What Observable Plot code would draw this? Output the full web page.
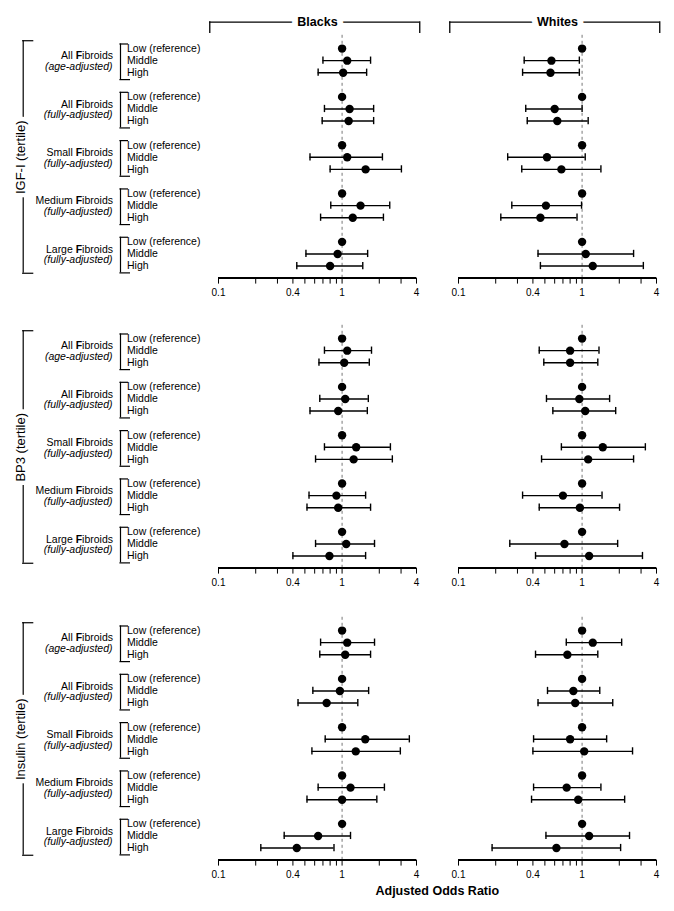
<!DOCTYPE html>
<html>
<head>
<meta charset="utf-8">
<script src="https://cdn.jsdelivr.net/npm/d3@7"></script>
<script src="https://cdn.jsdelivr.net/npm/@observablehq/plot@0.6"></script>
<style>
  html, body { margin: 0; padding: 0; background: #fff; }
  #chart { position: relative; width: 674px; height: 911px; overflow: hidden; background: #fff; }
  #chart svg { position: absolute; }
  #xtitle { position: absolute; font-family: "Liberation Sans", Arial, sans-serif; font-weight: bold; font-size: 12.5px; text-align: center; line-height: 15px; }
</style>
</head>
<body>
<div id="chart"></div>
<script>
// ---------------- data ----------------
const races = ["Blacks", "Whites"];
const panels = ["IGF-I (tertile)", "BP3 (tertile)", "Insulin (tertile)"];
const groups = ["All Fibroids", "All Fibroids", "Small Fibroids", "Medium Fibroids", "Large Fibroids"];
const adjustments = ["(age-adjusted)", "(fully-adjusted)", "(fully-adjusted)", "(fully-adjusted)", "(fully-adjusted)"];
const tertiles = ["Low (reference)", "Middle", "High"];
const xTickValues = [0.1, 0.2, 0.3, 0.4, 0.5, 0.6, 0.7, 0.8, 0.9, 1, 2, 3, 4];
const xTickLabels = [0.1, 0.4, 1, 4];
const axisTitle = "Adjusted Odds Ratio";

// [odds ratio, lower CI, upper CI] for Middle and High tertile of each group (Low = reference 1)
const igfBlacks = [
  [1.10, 0.70, 1.70], [1.02, 0.64, 1.58],
  [1.15, 0.72, 1.80], [1.13, 0.69, 1.80],
  [1.10, 0.55, 2.12], [1.55, 0.80, 3.02],
  [1.41, 0.81, 2.43], [1.22, 0.67, 2.16],
  [0.92, 0.51, 1.61], [0.80, 0.43, 1.47]
];
const igfWhites = [
  [0.565, 0.34, 0.95], [0.555, 0.33, 0.95],
  [0.60, 0.35, 1.00], [0.63, 0.36, 1.12],
  [0.52, 0.25, 1.06], [0.68, 0.325, 1.42],
  [0.51, 0.27, 0.99], [0.46, 0.22, 0.91],
  [1.07, 0.44, 2.61], [1.22, 0.46, 3.13]
];
const bp3Blacks = [
  [1.10, 0.72, 1.73], [1.04, 0.65, 1.66],
  [1.06, 0.66, 1.63], [0.93, 0.55, 1.60],
  [1.30, 0.72, 2.46], [1.24, 0.61, 2.55],
  [0.90, 0.54, 1.55], [0.93, 0.52, 1.70],
  [1.08, 0.61, 1.83], [0.79, 0.40, 1.55]
];
const bp3Whites = [
  [0.80, 0.45, 1.37], [0.80, 0.49, 1.34],
  [0.95, 0.515, 1.67], [1.06, 0.58, 1.87],
  [1.47, 0.68, 3.25], [1.12, 0.47, 2.61],
  [0.70, 0.33, 1.45], [0.96, 0.45, 2.01],
  [0.72, 0.26, 1.94], [1.14, 0.42, 3.08]
];
const insBlacks = [
  [1.10, 0.67, 1.83], [1.06, 0.66, 1.70],
  [0.96, 0.58, 1.64], [0.75, 0.44, 1.34],
  [1.54, 0.73, 3.50], [1.29, 0.57, 2.96],
  [1.17, 0.64, 2.20], [1.00, 0.52, 1.91],
  [0.64, 0.34, 1.17], [0.43, 0.22, 0.86]
];
const insWhites = [
  [1.22, 0.745, 2.09], [0.76, 0.42, 1.34],
  [0.85, 0.525, 1.39], [0.88, 0.44, 1.77],
  [0.80, 0.405, 1.58], [1.04, 0.40, 2.56],
  [0.75, 0.405, 1.42], [0.93, 0.39, 2.21],
  [1.14, 0.51, 2.42], [0.62, 0.187, 2.05]
];
const seriesByPanel = [[igfBlacks, igfWhites], [bp3Blacks, bp3Whites], [insBlacks, insWhites]];

// ---------------- layout ----------------
const FONT = '"Liberation Sans", Arial, Helvetica, sans-serif';
const W = 674;
const PH = 284, MT = 12, MB = 30.4;
const ML = 217.3, MR = 16.7;
const panelTops = [24.2, 314.2, 605.9];
const fxOpts = {domain: races, paddingInner: 42 / 241, paddingOuter: 0, axis: null};
const yOpts = {domain: [-1, 19], reverse: true, axis: null};
const baseStyle = {background: "transparent", fontFamily: FONT, color: "black", overflow: "visible"};

const chart = document.getElementById("chart");
function place(svg, left, top) {
  svg.style.left = left + "px";
  svg.style.top = top + "px";
  chart.appendChild(svg);
}

function boldF(svg) {
  const NS = "http://www.w3.org/2000/svg";
  svg.querySelectorAll("text").forEach(t => {
    const s = t.textContent;
    const i = s.indexOf("Fibroids");
    if (i < 0 || t.querySelector("tspan")) return;
    t.textContent = "";
    t.appendChild(document.createTextNode(s.slice(0, i)));
    const ts = document.createElementNS(NS, "tspan");
    ts.setAttribute("font-weight", "bold");
    ts.textContent = "F";
    t.appendChild(ts);
    t.appendChild(document.createTextNode(s.slice(i + 1)));
  });
}

// header (Blacks / Whites brackets)
const header = Plot.plot({
  width: W, height: 40, marginLeft: ML, marginRight: MR, marginTop: 0, marginBottom: 0,
  style: baseStyle,
  x: {type: "log", domain: [0.1, 4], axis: null},
  y: {type: "identity", axis: null},
  fx: fxOpts,
  marks: [
    Plot.ruleY(races, {fx: d => d, y: 21.7, x1: 0.085, x2: 4.25, strokeWidth: 1.3}),
    Plot.ruleX(races, {fx: d => d, x: 0.085, y1: 21.2, y2: 33, strokeWidth: 1.3}),
    Plot.ruleX(races, {fx: d => d, x: 4.25, y1: 21.2, y2: 33, strokeWidth: 1.3}),
    Plot.text(races, {fx: d => d, text: d => d, y: 21.7, fontWeight: "bold", fontSize: 12.5,
      fill: "black", stroke: "white", strokeWidth: 12, paintOrder: "stroke"})
  ]
});
place(header, 0, 0);

panels.forEach((panelName, p) => {
  // rows for the data plot
  const rows = [];
  races.forEach((race, k) => {
    const arr = seriesByPanel[p][k];
    groups.forEach((g, gi) => {
      tertiles.forEach((t, r) => {
        const v = r === 0 ? null : arr[gi * 2 + r - 1];
        rows.push({race, pos: gi * 4 + r, or: v ? v[0] : 1, lo: v ? v[1] : null, hi: v ? v[2] : null});
      });
    });
  });
  const ci = rows.filter(d => d.lo != null);

  const dataPlot = Plot.plot({
    width: W, height: PH, marginLeft: ML, marginRight: MR, marginTop: MT, marginBottom: MB,
    style: {...baseStyle, fontSize: "10px"},
    x: {type: "log", domain: [0.1, 4]},
    y: yOpts,
    fx: fxOpts,
    marks: [
      Plot.ruleX([1], {y1: -1.1, y2: 19, stroke: "#777", strokeWidth: 1, strokeDasharray: "3,3"}),
      Plot.ruleY(ci, {fx: "race", y: "pos", x1: "lo", x2: "hi", strokeWidth: 1.4}),
      Plot.ruleX(ci, {fx: "race", x: "lo", y1: d => d.pos - 0.3, y2: d => d.pos + 0.3, strokeWidth: 1.4}),
      Plot.ruleX(ci, {fx: "race", x: "hi", y1: d => d.pos - 0.3, y2: d => d.pos + 0.3, strokeWidth: 1.4}),
      Plot.dot(rows, {fx: "race", x: "or", y: "pos", r: 4.2, fill: "black", stroke: "none"}),
      Plot.ruleY([19], {x1: 0.1, x2: 4, strokeWidth: 2}),
      Plot.axisX({ticks: xTickValues, tickFormat: d => xTickLabels.includes(d) ? String(d) : "",
        tickSize: 6, tickPadding: 4.5, label: null, fontSize: 10})
    ]
  });
  place(dataPlot, 0, panelTops[p]);

  // left labels
  const groupRecs = groups.map((g, gi) => ({pos: gi * 4, name: g, sub: adjustments[gi]}));
  const tertRecs = [];
  groups.forEach((g, gi) => tertiles.forEach((t, r) => tertRecs.push({pos: gi * 4 + r, label: t})));

  const labelPlot = Plot.plot({
    width: ML, height: PH, marginLeft: 0, marginRight: 0, marginTop: MT, marginBottom: MB,
    style: {...baseStyle, fontSize: "10.5px"},
    x: {type: "identity", axis: null},
    y: yOpts,
    marks: [
      Plot.text(groupRecs, {x: 112.5, y: d => d.pos + 0.62, text: "name", textAnchor: "end", fontSize: 10.5}),
      Plot.text(groupRecs, {x: 112, y: d => d.pos + 1.5, text: "sub", textAnchor: "end", fontStyle: "italic", fontSize: 10.5}),
      Plot.text(tertRecs, {x: 126.5, y: "pos", text: "label", textAnchor: "start", fontSize: 10.5}),
      Plot.ruleX(groupRecs, {x: 120, y1: d => d.pos - 0.38, y2: d => d.pos + 2.57, strokeWidth: 1.2}),
      Plot.ruleY(groupRecs, {y: d => d.pos - 0.38, x1: 119.4, x2: 128, strokeWidth: 1.2}),
      Plot.ruleY(groupRecs, {y: d => d.pos + 2.57, x1: 119.4, x2: 130, strokeWidth: 1.2}),
      Plot.ruleX([panelName], {x: 22.7, y1: -0.65, y2: 18.6, strokeWidth: 1.2}),
      Plot.ruleY([panelName], {y: -0.65, x1: 22.1, x2: 33.3, strokeWidth: 1.2}),
      Plot.ruleY([panelName], {y: 18.6, x1: 22.1, x2: 33.3, strokeWidth: 1.2}),
      Plot.text([panelName], {x: 20.5, y: 9, text: d => d, rotate: -90, fontSize: 13,
        fill: "black", stroke: "white", strokeWidth: 9, paintOrder: "stroke"})
    ]
  });
  boldF(labelPlot);
  place(labelPlot, 0, panelTops[p]);
});

const title = document.createElement("div");
title.id = "xtitle";
title.textContent = axisTitle;
title.style.left = ML + "px";
title.style.width = (W - ML - MR) + "px";
title.style.top = "883.5px";
chart.appendChild(title);
</script>
</body>
</html>
